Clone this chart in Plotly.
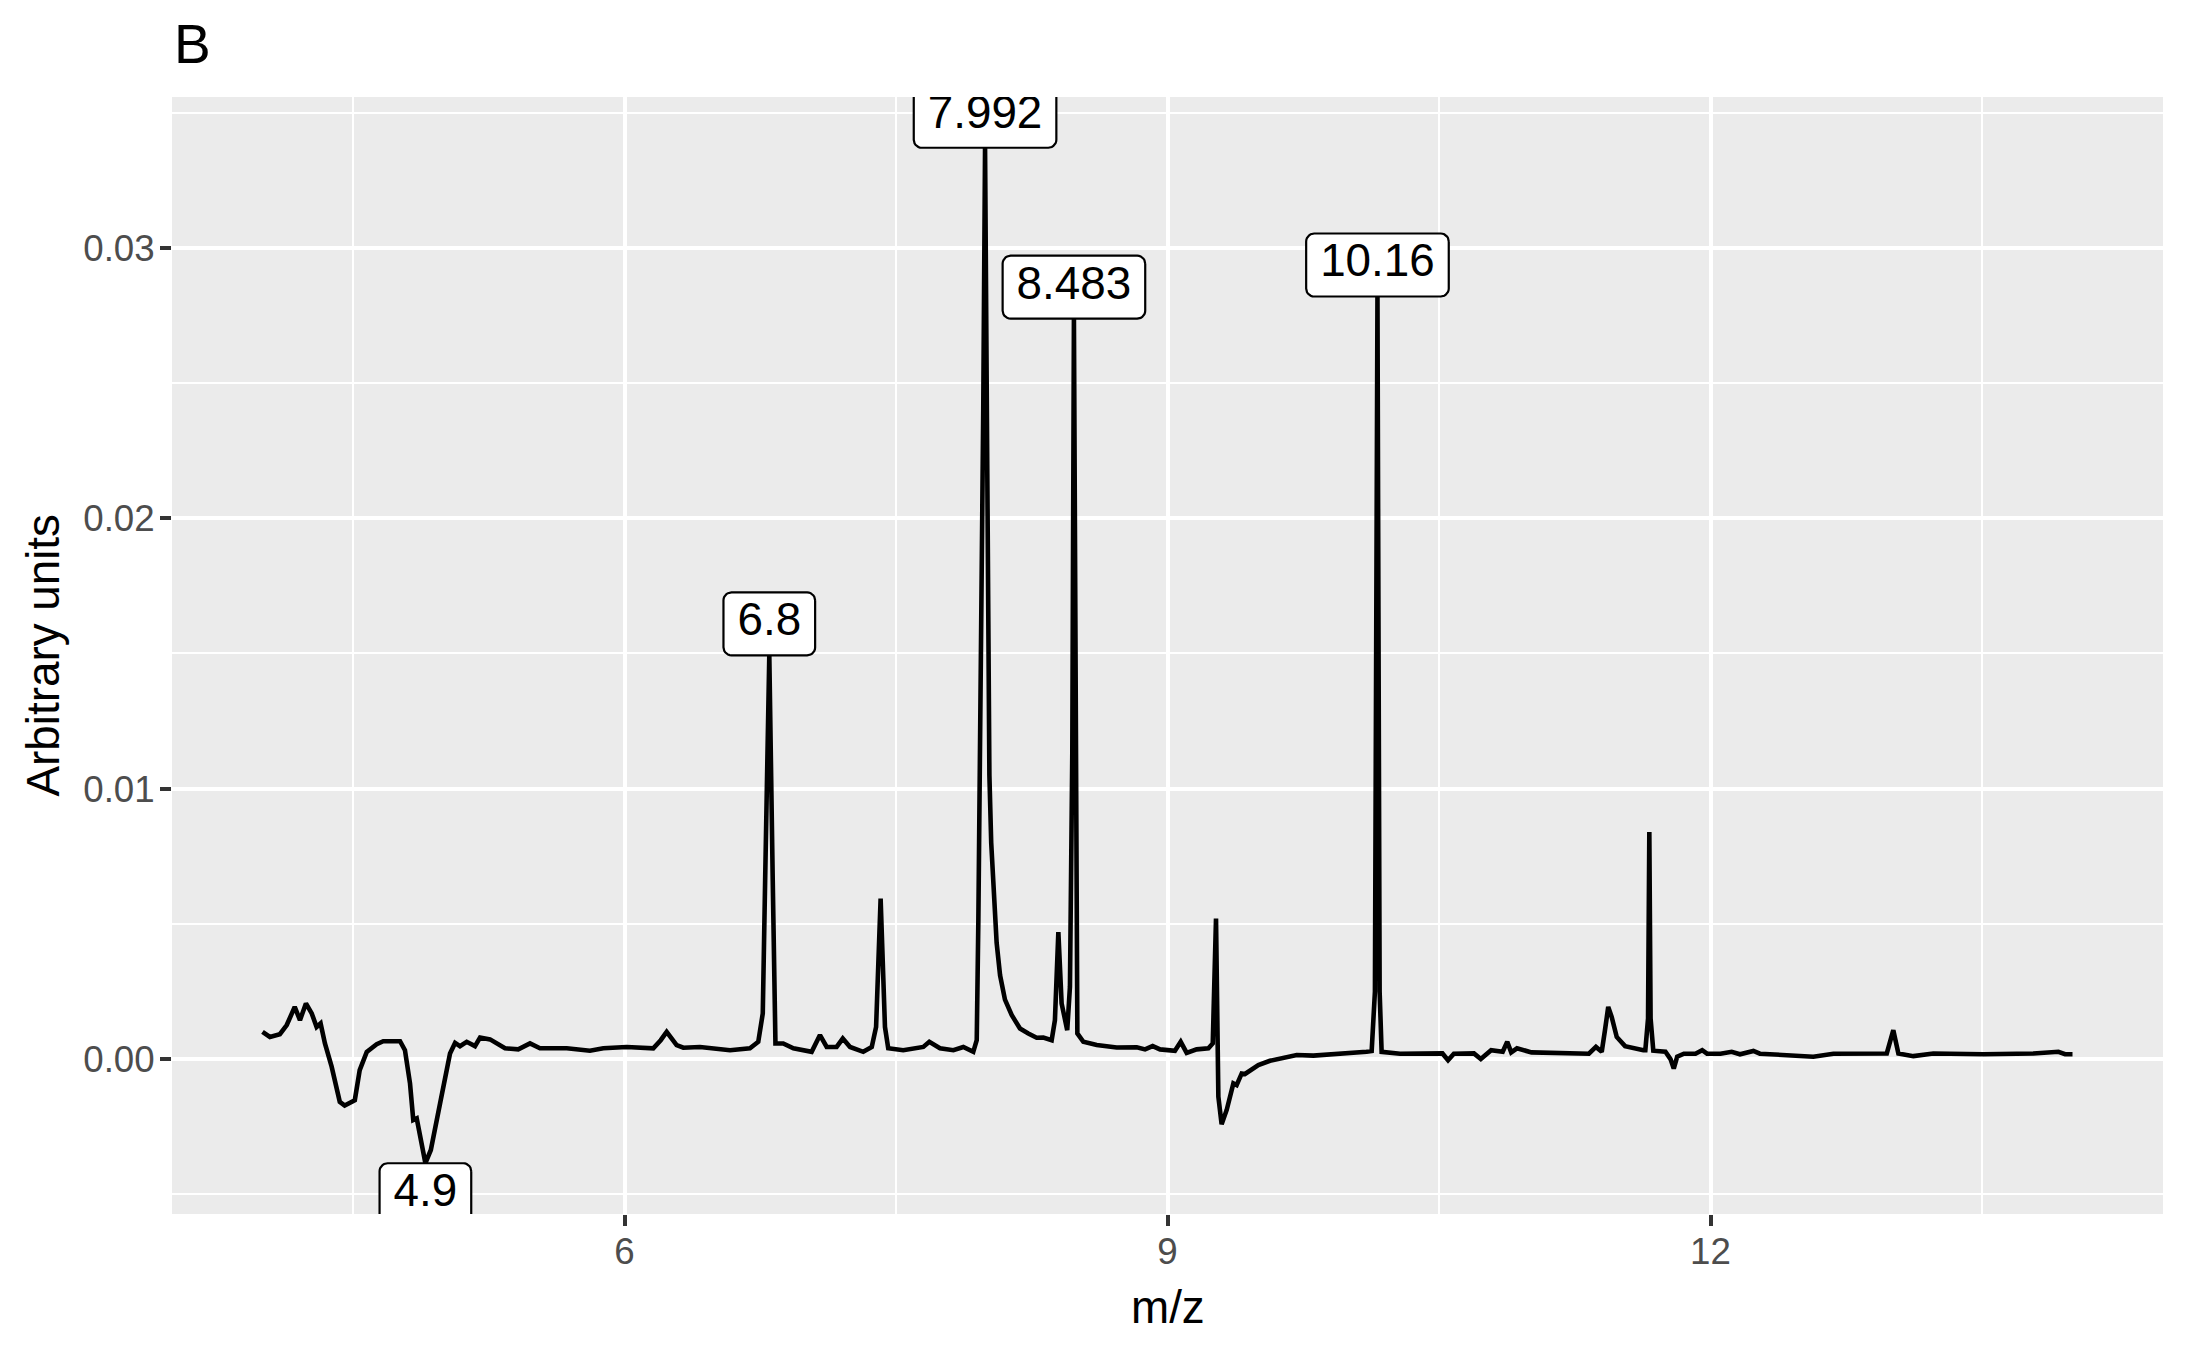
import numpy as np
import plotly.graph_objects as go

# ---------------- data ----------------
mz = [
    4.000, 4.041, 4.096, 4.134, 4.178, 4.207, 4.240, 4.272, 4.299, 4.321,
    4.345, 4.382, 4.427, 4.454, 4.510, 4.537, 4.576, 4.631, 4.667, 4.760,
    4.787, 4.815, 4.833, 4.852, 4.900, 4.930, 4.981, 5.036, 5.064, 5.091,
    5.128, 5.174, 5.202, 5.257, 5.340, 5.413, 5.478, 5.533, 5.681, 5.809,
    5.883, 6.012, 6.159, 6.200, 6.233, 6.288, 6.325, 6.417, 6.583, 6.693,
    6.739, 6.764, 6.777, 6.800, 6.819, 6.834, 6.877, 6.933, 7.034, 7.080,
    7.117, 7.172, 7.206, 7.246, 7.319, 7.366, 7.390, 7.415, 7.439, 7.457,
    7.540, 7.651, 7.684, 7.743, 7.817, 7.872, 7.927, 7.946, 7.955, 7.968,
    7.982, 7.992, 8.000, 8.005, 8.016, 8.026, 8.036, 8.047, 8.056, 8.075,
    8.102, 8.139, 8.185, 8.231, 8.277, 8.314, 8.360, 8.378, 8.397, 8.415,
    8.446, 8.461, 8.474, 8.483, 8.492, 8.502, 8.535, 8.609, 8.719, 8.830,
    8.876, 8.918, 8.959, 9.041, 9.073, 9.106, 9.161, 9.226, 9.250, 9.268,
    9.281, 9.299, 9.327, 9.364, 9.382, 9.410, 9.428, 9.456, 9.502, 9.566,
    9.640, 9.714, 9.806, 9.916, 10.027, 10.100, 10.128, 10.146, 10.160, 10.172,
    10.183, 10.285, 10.519, 10.550, 10.582, 10.693, 10.731, 10.788, 10.852, 10.877,
    10.899, 10.931, 11.011, 11.328, 11.367, 11.399, 11.417, 11.435, 11.454, 11.482,
    11.528, 11.574, 11.629, 11.640, 11.655, 11.662, 11.669, 11.684, 11.751, 11.779,
    11.797, 11.816, 11.853, 11.917, 11.954, 11.981, 12.055, 12.117, 12.163, 12.237,
    12.273, 12.568, 12.679, 12.974, 13.010, 13.038, 13.121, 13.231, 13.508, 13.784,
    13.922, 13.959, 14.000,
]
intensity = [
    0.00101, 0.00082, 0.00092, 0.00126, 0.00193, 0.00144, 0.00206, 0.00169, 0.00119, 0.00132,
    0.00058, -0.00028, -0.00158, -0.00172, -0.00152, -0.00041, 0.00027, 0.00055, 0.00066, 0.00066,
    0.00033, -0.00090, -0.00225, -0.00219, -0.00385, -0.00336, -0.00164, 0.00021, 0.00060, 0.00048,
    0.00064, 0.00048, 0.00080, 0.00073, 0.00040, 0.00036, 0.00058, 0.00040, 0.00040, 0.00031,
    0.00040, 0.00045, 0.00040, 0.00070, 0.00101, 0.00052, 0.00042, 0.00045, 0.00033, 0.00040,
    0.00064, 0.00169, 0.00661, 0.01493, 0.00661, 0.00058, 0.00058, 0.00040, 0.00027, 0.00089,
    0.00045, 0.00045, 0.00076, 0.00045, 0.00027, 0.00045, 0.00119, 0.00594, 0.00119, 0.00040,
    0.00033, 0.00045, 0.00064, 0.00040, 0.00033, 0.00045, 0.00027, 0.00070, 0.00514, 0.01253,
    0.02400, 0.03370, 0.02500, 0.01620, 0.01050, 0.00800, 0.00660, 0.00530, 0.00430, 0.00310,
    0.00220, 0.00163, 0.00113, 0.00095, 0.00079, 0.00080, 0.00070, 0.00144, 0.00470, 0.00206,
    0.00107, 0.00267, 0.01130, 0.02738, 0.01130, 0.00095, 0.00064, 0.00052, 0.00043, 0.00044,
    0.00036, 0.00048, 0.00036, 0.00031, 0.00064, 0.00023, 0.00036, 0.00040, 0.00058, 0.00520,
    -0.00139, -0.00241, -0.00188, -0.00090, -0.00096, -0.00053, -0.00055, -0.00041, -0.00022, -0.00006,
    0.00003, 0.00015, 0.00013, 0.00018, 0.00020, 0.00027, 0.00030, 0.00250, 0.02820, 0.00250,
    0.00027, 0.00020, 0.00021, -0.00004, 0.00020, 0.00021, 0.00000, 0.00033, 0.00027, 0.00064,
    0.00025, 0.00040, 0.00025, 0.00020, 0.00045, 0.00027, 0.00107, 0.00193, 0.00156, 0.00082,
    0.00048, 0.00040, 0.00033, 0.00033, 0.00150, 0.00840, 0.00150, 0.00031, 0.00027, 0.00000,
    -0.00035, 0.00009, 0.00020, 0.00020, 0.00033, 0.00020, 0.00020, 0.00027, 0.00018, 0.00030,
    0.00020, 0.00009, 0.00020, 0.00021, 0.00107, 0.00021, 0.00011, 0.00021, 0.00018, 0.00021,
    0.00027, 0.00018, 0.00018,
]
peak_mz = [4.9, 6.8, 7.992, 8.483, 10.16]
x_ticks = [6, 9, 12]
y_ticks = [0.00, 0.01, 0.02, 0.03]
y_tick_labels = ["0.00", "0.01", "0.02", "0.03"]

n = min(len(mz), len(intensity))
mz, intensity = mz[:n], intensity[:n]

# ---------------- styles / geometry ----------------
W, H = 2187, 1350
ML, MR, MT, MB = 172, 24, 97, 136
PW, PH = W - ML - MR, H - MT - MB
FONT = "Liberation Sans"
GRID_MAJOR, GRID_MINOR = 4.4, 2.2
LABEL_PX = 45.8
LABEL_H = 63.0        # box height in px
LABEL_PAD = 14.0      # horizontal padding in px
LABEL_R = 8.0         # corner radius in px

# ggplot-like 5% expansion
xr = max(mz) - min(mz)
yr = max(intensity) - min(intensity)
x_range = [min(mz) - 0.05 * xr, max(mz) + 0.05 * xr]
y_range = [min(intensity) - 0.05 * yr, max(intensity) + 0.05 * yr]
sx = (x_range[1] - x_range[0]) / PW
sy = (y_range[1] - y_range[0]) / PH

def minor_between(major, lo, hi):
    step = major[1] - major[0]
    vals = [major[0] - step / 2 + step * i for i in range(-2, len(major) + 3)]
    return [v for v in vals if lo <= v <= hi and all(abs(v - m) > 1e-9 for m in major)]

x_minor = minor_between(x_ticks, *x_range)
y_minor = minor_between(y_ticks, *y_range)

fig = go.Figure()
fig.add_trace(go.Scatter(x=mz, y=intensity, mode="lines",
                         line=dict(color="black", width=4.6), hoverinfo="skip"))

def text_width(s):
    return sum(0.278 if c == "." else 0.556 for c in s) * LABEL_PX

def rounded_box(cx, y_edge, w_px, h_px, upward):
    if upward:
        y0, y1 = y_edge, y_edge + h_px * sy
    else:
        y0, y1 = y_edge - h_px * sy, y_edge
    x0, x1 = cx - w_px / 2 * sx, cx + w_px / 2 * sx
    rx, ry = LABEL_R * sx, LABEL_R * sy
    xs, ys = [], []
    corners = [(x1 - rx, y1 - ry, 0), (x0 + rx, y1 - ry, 90),
               (x0 + rx, y0 + ry, 180), (x1 - rx, y0 + ry, 270)]
    for ccx, ccy, a0 in corners:
        t = np.radians(np.linspace(a0, a0 + 90, 8))
        xs += list(ccx + rx * np.cos(t))
        ys += list(ccy + ry * np.sin(t))
    xs.append(xs[0]); ys.append(ys[0])
    return xs, ys, (y0 + y1) / 2

label_text, label_x, label_y = [], [], []
for p in peak_mz:
    i = int(np.argmin([abs(m - p) for m in mz]))
    yv = intensity[i]
    s = f"{p:.4g}"
    w = text_width(s) + 2 * LABEL_PAD
    bx, by, cy = rounded_box(p, yv, w, LABEL_H, yv > 0)
    fig.add_trace(go.Scatter(x=bx, y=by, mode="lines", fill="toself",
                             fillcolor="white", line=dict(color="black", width=2.2),
                             hoverinfo="skip"))
    label_text.append(s); label_x.append(p); label_y.append(cy)

fig.add_trace(go.Scatter(x=label_x, y=label_y, mode="text", text=label_text,
                         textposition="middle center", cliponaxis=True,
                         textfont=dict(family=FONT, size=LABEL_PX, color="black"),
                         hoverinfo="skip"))

axis_common = dict(showgrid=True, gridcolor="white", gridwidth=GRID_MAJOR,
                   zeroline=False, showline=False, ticks="outside", ticklen=11,
                   tickwidth=GRID_MAJOR, tickcolor="#333333",
                   tickfont=dict(family=FONT, size=36.7, color="#4D4D4D"))

fig.update_layout(
    width=W, height=H, margin=dict(l=ML, r=MR, t=MT, b=MB),
    paper_bgcolor="white", plot_bgcolor="#EBEBEB", showlegend=False,
    font=dict(family=FONT), hovermode=False,
    xaxis=dict(range=x_range, tickvals=x_ticks, ticktext=[str(v) for v in x_ticks],
               minor=dict(tickvals=x_minor, showgrid=True, gridcolor="white",
                          gridwidth=GRID_MINOR, ticks=""),
               ticklabelstandoff=-6, **axis_common),
    yaxis=dict(range=y_range, tickvals=y_ticks, ticktext=y_tick_labels,
               minor=dict(tickvals=y_minor, showgrid=True, gridcolor="white",
                          gridwidth=GRID_MINOR, ticks=""),
               ticklabelstandoff=-2, **axis_common),
    annotations=[
        dict(text="B", xref="paper", yref="paper", x=0, y=(MT - 43.5) / PH + 1,
             xanchor="left", yanchor="middle", showarrow=False,
             font=dict(family=FONT, size=55, color="black")),
        dict(text="m/z", xref="paper", yref="paper", x=0.5, y=-(1307 - (H - MB)) / PH,
             xanchor="center", yanchor="middle", showarrow=False,
             font=dict(family=FONT, size=45.8, color="black")),
        dict(text="Arbitrary units", xref="paper", yref="paper", x=-(ML - 43) / PW, y=0.5,
             xanchor="center", yanchor="middle", textangle=-90, showarrow=False,
             font=dict(family=FONT, size=45.8, color="black")),
    ],
)

fig.write_html("out.html", config={"displayModeBar": False},
               post_script="document.body.style.margin='0px';")
